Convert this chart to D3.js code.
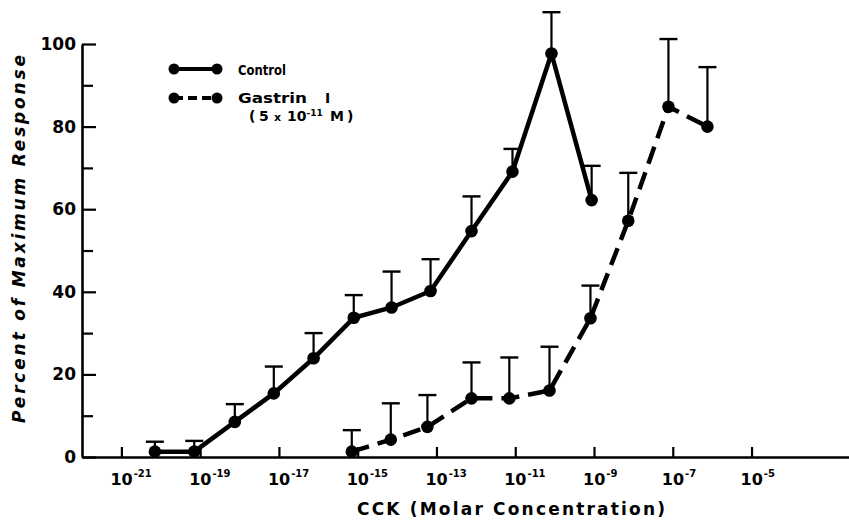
<!DOCTYPE html>
<html>
<head>
<meta charset="utf-8">
<script src="https://cdn.jsdelivr.net/npm/d3@7"></script>
<style>
  body { margin: 0; background: #fff; }
  svg { display: block; }
</style>
</head>
<body>
<div id="chart"></div>
<script>
// CCK concentration, as log10 (M)
var controlLogConc = [-20.15, -19.15, -18.12, -17.13, -16.12, -15.1, -14.14, -13.15, -12.11, -11.07, -10.08, -9.06];
var controlMean    = [1.3, 1.3, 8.5, 15.4, 23.9, 33.7, 36.2, 40.2, 54.7, 69.1, 97.7, 62.2];
var controlSem     = [2.4, 2.6, 4.3, 6.5, 6.1, 5.5, 8.7, 7.7, 8.4, 5.5, 10.0, 8.3];

var gastrinLogConc = [-15.15, -14.16, -13.23, -12.11, -11.15, -10.13, -9.09, -8.13, -7.11, -6.12];
var gastrinMean    = [1.3, 4.2, 7.3, 14.2, 14.2, 16.1, 33.6, 57.2, 84.8, 80.0];
var gastrinSem     = [5.2, 8.8, 7.7, 8.7, 9.9, 10.6, 7.9, 11.6, 16.4, 14.4];

var xTickExponents = [-21, -19, -17, -15, -13, -11, -9, -7, -5];
var yMajorTicks = [0, 20, 40, 60, 80, 100];
var yMinorTicks = [10, 30, 50, 70, 90];

var width = 849, height = 529;

var svg = d3.select("#chart")
  .append("svg")
    .attr("width", width)
    .attr("height", height);

// scales
var x = d3.scaleLog()
    .domain([1e-22, Math.pow(10, -2.5)])
    .range([82, 850]);

var y = d3.scaleLinear()
    .domain([0, 100])
    .range([457, 44]);

// y axis, ticks pointing inward
var yAxis = svg.append("g")
    .attr("transform", "translate(82,0)")
    .call(d3.axisLeft(y).tickValues(yMajorTicks).tickSize(-14).tickSizeOuter(0).tickPadding(6));

yAxis.select(".domain").attr("stroke-width", 2.6);
yAxis.selectAll(".tick line").attr("stroke-width", 2.2);
yAxis.selectAll(".tick text")
    .style("font-family", "DejaVu Sans")
    .style("font-weight", "bold")
    .style("font-size", "17px")
    .attr("fill", "#000");

var yMinor = svg.append("g")
    .attr("transform", "translate(82,0)")
    .call(d3.axisLeft(y).tickValues(yMinorTicks).tickSize(-11).tickFormat(""));
yMinor.select(".domain").remove();
yMinor.selectAll(".tick line").attr("stroke-width", 2.2);

// x axis, ticks pointing up
var xAxis = svg.append("g")
    .attr("transform", "translate(0,457)")
    .call(d3.axisBottom(x)
      .tickValues(xTickExponents.map(function(e) { return Math.pow(10, e); }))
      .tickSize(-10).tickSizeOuter(0).tickFormat(""));
xAxis.select(".domain").attr("stroke-width", 2.6);
xAxis.selectAll(".tick line").attr("stroke-width", 2.2);

var xLabels = svg.append("g")
    .style("font-family", "DejaVu Sans")
    .style("font-weight", "bold")
  .selectAll("text")
  .data(xTickExponents)
  .enter().append("text")
    .attr("x", function(e) { return x(Math.pow(10, e)) - 11; })
    .attr("y", 485);
xLabels.append("tspan")
    .style("font-size", "16px")
    .text("10");
xLabels.append("tspan")
    .style("font-size", "10px")
    .attr("dx", 1)
    .attr("dy", -8)
    .text(function(e) { return "-" + Math.abs(e); });

// axis titles
svg.append("text")
    .attr("x", 357)
    .attr("y", 515)
    .attr("textLength", 308)
    .attr("lengthAdjust", "spacing")
    .style("font-family", "DejaVu Sans")
    .style("font-weight", "bold")
    .style("font-size", "17px")
    .text("CCK (Molar Concentration)");

svg.append("text")
    .attr("transform", "translate(25,423) rotate(-90)")
    .attr("textLength", 368)
    .attr("lengthAdjust", "spacing")
    .style("font-family", "DejaVu Sans")
    .style("font-weight", "bold")
    .style("font-style", "italic")
    .style("font-size", "17px")
    .text("Percent of Maximum Response");

// data rows
function rows(lc, mean, sem) {
  return lc.map(function(c, i) { return {conc: Math.pow(10, c), mean: mean[i], sem: sem[i]}; });
}
var series = [
  {name: "Control", data: rows(controlLogConc, controlMean, controlSem), dash: null},
  {name: "Gastrin I", data: rows(gastrinLogConc, gastrinMean, gastrinSem), dash: "18,9"}
];

var line = d3.line()
    .x(function(d) { return x(d.conc); })
    .y(function(d) { return y(d.mean); });

series.forEach(function(s) {
  var g = svg.append("g");

  // error bars (upper only)
  g.selectAll(".err")
    .data(s.data)
    .enter().append("line")
      .attr("x1", function(d) { return x(d.conc); })
      .attr("x2", function(d) { return x(d.conc); })
      .attr("y1", function(d) { return y(d.mean); })
      .attr("y2", function(d) { return y(d.mean + d.sem); })
      .attr("stroke", "#000")
      .attr("stroke-width", 2.2);
  g.selectAll(".cap")
    .data(s.data)
    .enter().append("line")
      .attr("x1", function(d) { return x(d.conc) - 9; })
      .attr("x2", function(d) { return x(d.conc) + 9; })
      .attr("y1", function(d) { return y(d.mean + d.sem); })
      .attr("y2", function(d) { return y(d.mean + d.sem); })
      .attr("stroke", "#000")
      .attr("stroke-width", 2.4);

  g.append("path")
    .datum(s.data)
    .attr("d", line)
    .attr("fill", "none")
    .attr("stroke", "#000")
    .attr("stroke-width", 4.5)
    .attr("stroke-dasharray", s.dash);

  g.selectAll("circle")
    .data(s.data)
    .enter().append("circle")
      .attr("cx", function(d) { return x(d.conc); })
      .attr("cy", function(d) { return y(d.mean); })
      .attr("r", 6.3)
      .attr("fill", "#000");
});

// legend
var legend = svg.append("g")
    .style("font-family", "DejaVu Sans")
    .style("font-weight", "bold")
    .style("font-size", "14px");

[{y: 69, dash: null}, {y: 98, dash: "9,5"}].forEach(function(l) {
  legend.append("line")
    .attr("x1", 174).attr("x2", 217)
    .attr("y1", l.y).attr("y2", l.y)
    .attr("stroke", "#000")
    .attr("stroke-width", 4)
    .attr("stroke-dasharray", l.dash);
  legend.selectAll(null)
    .data([174, 217])
    .enter().append("circle")
      .attr("cx", function(d) { return d; })
      .attr("cy", l.y)
      .attr("r", 5.5)
      .attr("fill", "#000");
});

legend.append("text").attr("x", 238).attr("y", 75)
    .attr("textLength", 48).attr("lengthAdjust", "spacingAndGlyphs").text("Control");
legend.append("text").attr("x", 238).attr("y", 103)
    .attr("textLength", 69).attr("lengthAdjust", "spacingAndGlyphs").text("Gastrin");
legend.append("text").attr("x", 325).attr("y", 103).text("I");

var conc = legend.append("text").attr("y", 121);
conc.append("tspan").attr("x", 249).text("(");
conc.append("tspan").attr("x", 259).text("5");
conc.append("tspan").attr("x", 274).style("font-size", "11px").text("x");
conc.append("tspan").attr("x", 287).text("10");
conc.append("tspan").attr("dy", -5).style("font-size", "9px").text("-11");
conc.append("tspan").attr("x", 330).attr("dy", 5).text("M");
conc.append("tspan").attr("x", 347).text(")");
</script>
</body>
</html>
